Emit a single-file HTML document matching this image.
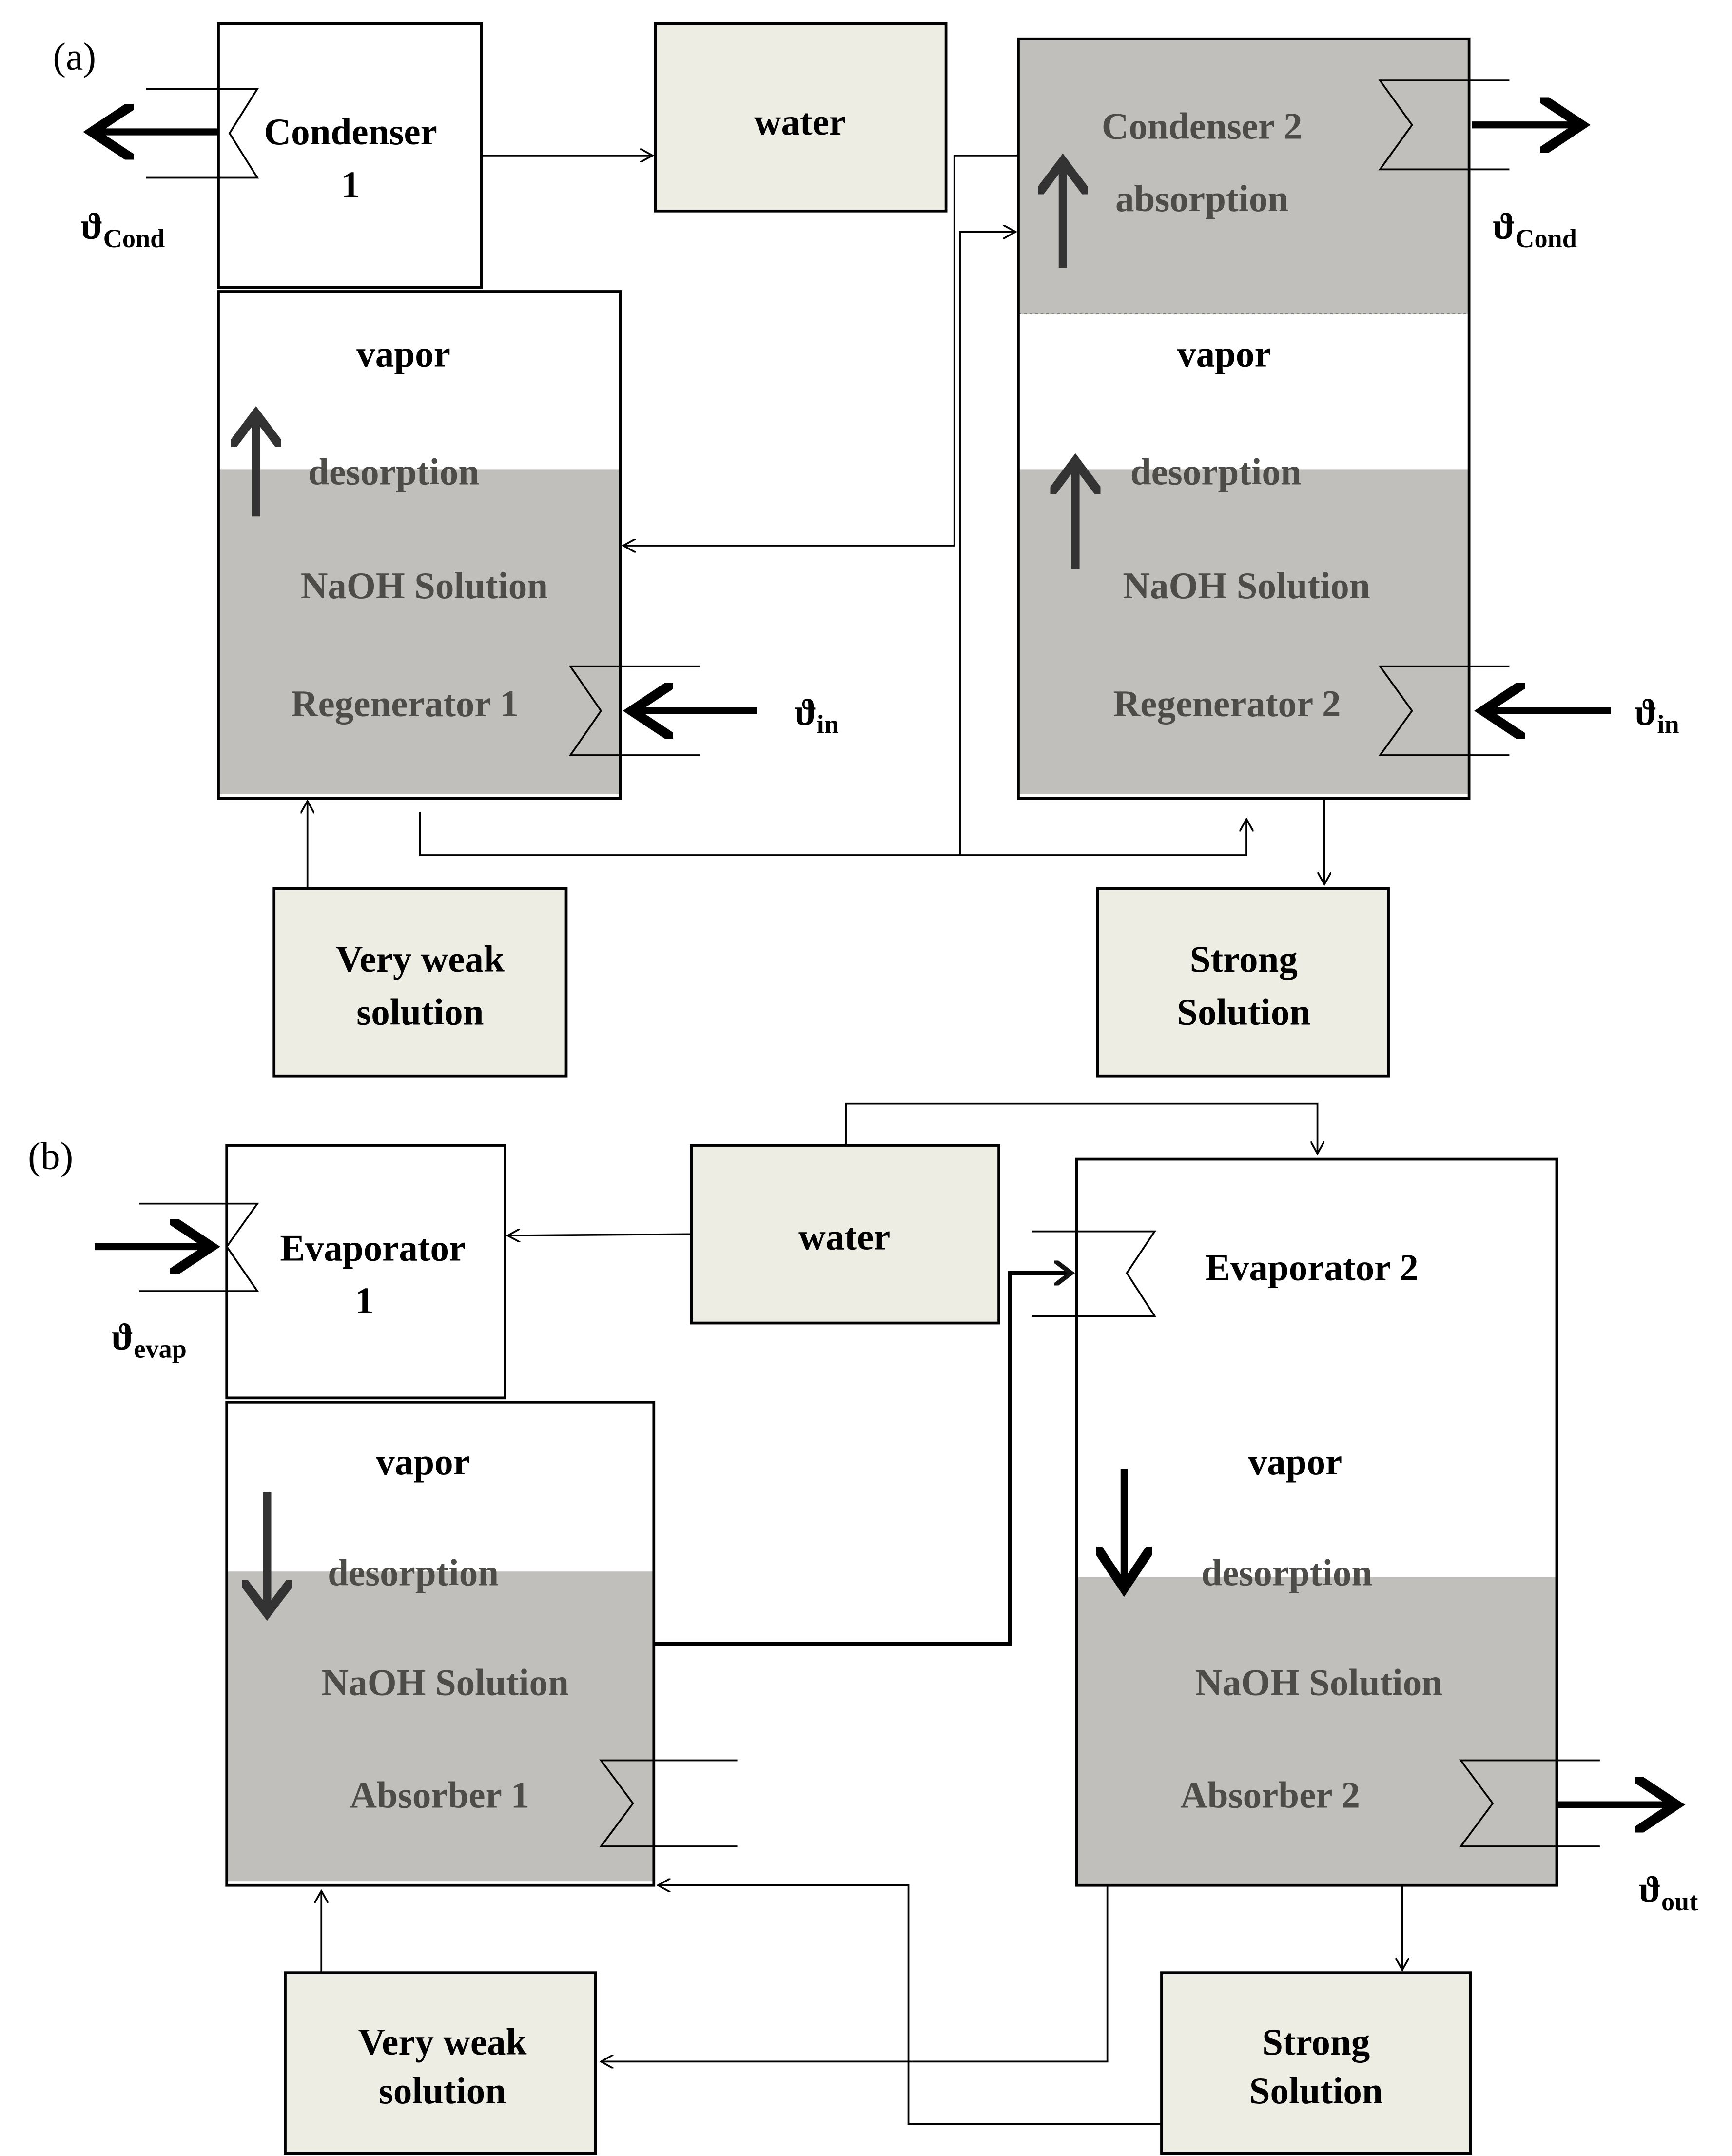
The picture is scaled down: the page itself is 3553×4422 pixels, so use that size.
<!DOCTYPE html>
<html><head><meta charset="utf-8"><style>html,body{margin:0;padding:0;background:#fff}svg{display:block}</style></head><body>
<svg width="3553" height="4422" viewBox="0 0 1245 1553" preserveAspectRatio="none" xmlns="http://www.w3.org/2000/svg" font-family="Liberation Serif, serif" font-weight="bold">
<defs>
<marker id="a" markerWidth="10" markerHeight="10" refX="9" refY="5" orient="auto" markerUnits="userSpaceOnUse"><path d="M0,0 L9,5 L0,10" fill="none" stroke="#000" stroke-width="1.3"/></marker>
<marker id="t" markerWidth="8" markerHeight="8" refX="6" refY="4" orient="auto"><path d="M0,0 L6,4 L0,8" fill="none" stroke="#000" stroke-width="1.4"/></marker>
<marker id="th" markerWidth="6" markerHeight="6" refX="4" refY="3" orient="auto"><path d="M0,0 L4,3 L0,6" fill="none" stroke="#111" stroke-width="1.1"/></marker>
<marker id="tg" markerWidth="6" markerHeight="6" refX="4" refY="3" orient="auto"><path d="M0,0 L4,3 L0,6" fill="none" stroke="#333" stroke-width="1.1"/></marker>
</defs>
<g font-weight="normal" font-size="28"><text x="38" y="50">(a)</text><text x="20" y="842">(b)</text></g>

<!-- panel a boxes -->
<rect x="157" y="17" width="189" height="190" fill="#fff" stroke="#000" stroke-width="2"/>
<rect x="471" y="17" width="209" height="135" fill="#eeede3" stroke="#000" stroke-width="2"/>
<rect x="732" y="28" width="324" height="198" fill="#c0bfbb"/>
<rect x="732" y="338" width="324" height="234" fill="#c0bfbb"/>
<line x1="732" y1="226" x2="1056" y2="226" stroke="#777" stroke-dasharray="2,2"/>
<rect x="732" y="28" width="324" height="547" fill="none" stroke="#000" stroke-width="2"/>
<rect x="157" y="338" width="289" height="234" fill="#c0bfbb"/>
<rect x="157" y="210" width="289" height="365" fill="none" stroke="#000" stroke-width="2"/>
<rect x="197" y="640" width="210" height="135" fill="#eeede3" stroke="#000" stroke-width="2"/>
<rect x="789" y="640" width="209" height="135" fill="#eeede3" stroke="#000" stroke-width="2"/>

<!-- exchangers a -->
<g fill="none" stroke="#000" stroke-width="1.3">
<polyline points="105,64 185,64 165,96 185,128 105,128"/>
<polyline points="1085,58 992,58 1015,90 992,122 1085,122"/>
<polyline points="503,480 410,480 432,512 410,544 503,544"/>
<polyline points="1085,480 992,480 1015,512 992,544 1085,544"/>
</g>
<!-- thick arrows a -->
<g stroke="#000" stroke-width="5" marker-end="url(#t)">
<line x1="157" y1="95" x2="66" y2="95"/>
<line x1="1058" y1="90" x2="1137" y2="90"/>
<line x1="544" y1="512" x2="454" y2="512"/>
<line x1="1158" y1="512" x2="1066" y2="512"/>
</g>
<g stroke="#333" stroke-width="6" marker-end="url(#tg)">
<line x1="184" y1="372" x2="184" y2="298"/>
<line x1="773" y1="410" x2="773" y2="332"/>
<line x1="764" y1="193" x2="764" y2="116"/>
</g>
<!-- thin lines a -->
<g fill="none" stroke="#000" stroke-width="1.3">
<line x1="346" y1="112" x2="469" y2="112" marker-end="url(#a)"/>
<polyline points="732,112 686,112 686,393 448,393" marker-end="url(#a)"/>
<polyline points="690,616 690,167 730,167" marker-end="url(#a)"/>
<polyline points="302,585 302,616 896,616 896,590" marker-end="url(#a)"/>
<line x1="952" y1="575" x2="952" y2="637" marker-end="url(#a)"/>
<line x1="221" y1="640" x2="221" y2="577" marker-end="url(#a)"/>
</g>
<!-- texts a -->
<g font-size="27" text-anchor="middle">
<text x="252" y="104">Condenser</text><text x="252" y="142">1</text>
<text x="575" y="97">water</text>
<text x="290" y="264">vapor</text>
<text x="880" y="264">vapor</text>
<text x="302" y="700">Very weak</text><text x="302" y="738">solution</text>
<text x="894" y="700">Strong</text><text x="894" y="738">Solution</text>
</g>
<g font-size="27" text-anchor="middle" fill="#4d4c48">
<text x="864" y="100">Condenser 2</text><text x="864" y="152">absorption</text>
<text x="283" y="349">desorption</text><text x="305" y="431">NaOH Solution</text><text x="291" y="516">Regenerator 1</text>
<text x="874" y="349">desorption</text><text x="896" y="431">NaOH Solution</text><text x="882" y="516">Regenerator 2</text>
</g>
<g font-size="27"><text x="58" y="172">ϑ<tspan font-size="19" dy="6">Cond</tspan></text>
<text x="1073" y="172">ϑ<tspan font-size="19" dy="6">Cond</tspan></text>
<text x="571" y="522">ϑ<tspan font-size="19" dy="6">in</tspan></text>
<text x="1175" y="522">ϑ<tspan font-size="19" dy="6">in</tspan></text>
<text x="80" y="972">ϑ<tspan font-size="19" dy="6">evap</tspan></text>
<text x="1178" y="1370">ϑ<tspan font-size="19" dy="6">out</tspan></text></g>

<!-- panel b -->
<rect x="163" y="825" width="200" height="182" fill="#fff" stroke="#000" stroke-width="2"/>
<rect x="497" y="825" width="221" height="128" fill="#eeede3" stroke="#000" stroke-width="2"/>
<rect x="163" y="1132" width="307" height="223" fill="#c0bfbb"/>
<rect x="163" y="1010" width="307" height="348" fill="none" stroke="#000" stroke-width="2"/>
<rect x="774" y="1136" width="345" height="222" fill="#c0bfbb"/>
<rect x="774" y="835" width="345" height="523" fill="none" stroke="#000" stroke-width="2"/>
<rect x="205" y="1421" width="223" height="130" fill="#eeede3" stroke="#000" stroke-width="2"/>
<rect x="835" y="1421" width="222" height="130" fill="#eeede3" stroke="#000" stroke-width="2"/>
<g fill="none" stroke="#000" stroke-width="1.3">
<polyline points="100,867 185,867 163,898 185,930 100,930"/>
<polyline points="742,887 830,887 810,917 830,948 742,948"/>
<polyline points="530,1268 432,1268 455,1299 432,1330 530,1330"/>
<polyline points="1150,1268 1050,1268 1073,1299 1050,1330 1150,1330"/>
<polyline points="608,825 608,795 947,795 947,831" marker-end="url(#a)"/>
<line x1="497" y1="889" x2="365" y2="890" marker-end="url(#a)"/>
<polyline points="796,1358 796,1485 432,1485" marker-end="url(#a)"/>
<polyline points="835,1530 653,1530 653,1358 473,1358" marker-end="url(#a)"/>
<line x1="1008" y1="1358" x2="1008" y2="1419" marker-end="url(#a)"/>
<line x1="231" y1="1421" x2="231" y2="1362" marker-end="url(#a)"/>
</g>
<polyline points="470,1184 726,1184 726,917 770,917" fill="none" stroke="#000" stroke-width="3" marker-end="url(#th)"/>
<g stroke="#000" stroke-width="5" marker-end="url(#t)">
<line x1="68" y1="898" x2="152" y2="898"/>
<line x1="1119" y1="1300" x2="1205" y2="1300"/>
<line x1="808" y1="1058" x2="808" y2="1144"/>
</g>
<line x1="192" y1="1075" x2="192" y2="1162" stroke="#333" stroke-width="6" marker-end="url(#tg)"/>
<g font-size="27" text-anchor="middle">
<text x="268" y="908">Evaporator</text><text x="262" y="946">1</text>
<text x="607" y="900">water</text>
<text x="943" y="922">Evaporator 2</text>
<text x="304" y="1062">vapor</text><text x="931" y="1062">vapor</text>
<text x="318" y="1480">Very weak</text><text x="318" y="1515">solution</text>
<text x="946" y="1480">Strong</text><text x="946" y="1515">Solution</text>
</g>
<g font-size="27" text-anchor="middle" fill="#4d4c48">
<text x="297" y="1142">desorption</text><text x="320" y="1221">NaOH Solution</text><text x="316" y="1302">Absorber 1</text>
<text x="925" y="1142">desorption</text><text x="948" y="1221">NaOH Solution</text><text x="913" y="1302">Absorber 2</text>
</g>
</svg>
</body></html>
